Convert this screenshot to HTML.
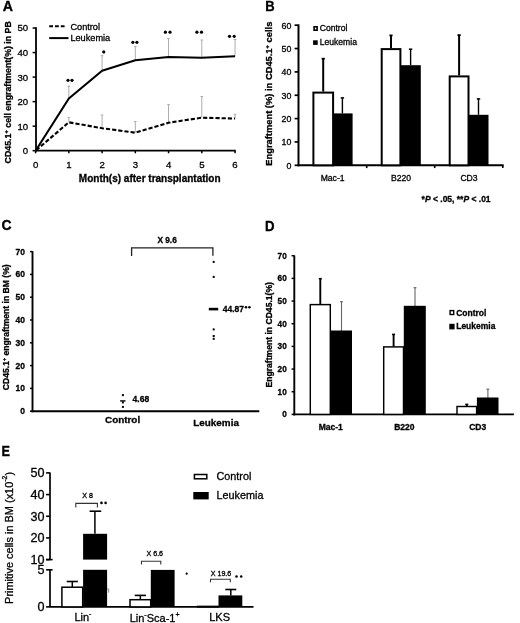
<!DOCTYPE html>
<html><head><meta charset="utf-8"><style>
html,body{margin:0;padding:0;background:#fff;width:520px;height:623px;overflow:hidden}
svg{display:block;filter:grayscale(1) blur(0.4px)}
text{font-family:"Liberation Sans",sans-serif;stroke:#000;stroke-width:0.3px}
</style></head><body>
<svg width="520" height="623" viewBox="0 0 520 623">
<rect width="520" height="623" fill="#fff"/>
<text transform="translate(2.8,11.3) scale(1,1.02)" font-size="14.2" font-weight="bold">A</text>
<line x1="36" y1="27.3" x2="36" y2="151.6" stroke="#000" stroke-width="1.8" />
<line x1="32.6" y1="150.7" x2="36" y2="150.7" stroke="#000" stroke-width="1.5" />
<text x="28.2" y="154.1" font-size="9.6" text-anchor="end" fill="#000" >0</text>
<line x1="32.6" y1="126.17" x2="36" y2="126.17" stroke="#000" stroke-width="1.5" />
<text x="28.2" y="129.57" font-size="9.6" text-anchor="end" fill="#000" >10</text>
<line x1="32.6" y1="101.64" x2="36" y2="101.64" stroke="#000" stroke-width="1.5" />
<text x="28.2" y="105.04" font-size="9.6" text-anchor="end" fill="#000" >20</text>
<line x1="32.6" y1="77.11" x2="36" y2="77.11" stroke="#000" stroke-width="1.5" />
<text x="28.2" y="80.51" font-size="9.6" text-anchor="end" fill="#000" >30</text>
<line x1="32.6" y1="52.58" x2="36" y2="52.58" stroke="#000" stroke-width="1.5" />
<text x="28.2" y="55.98" font-size="9.6" text-anchor="end" fill="#000" >40</text>
<line x1="32.6" y1="28.05" x2="36" y2="28.05" stroke="#000" stroke-width="1.5" />
<text x="28.2" y="31.45" font-size="9.6" text-anchor="end" fill="#000" >50</text>
<line x1="35.1" y1="150.7" x2="235.8" y2="150.7" stroke="#000" stroke-width="1.8" />
<line x1="35.6" y1="150.7" x2="35.6" y2="153.3" stroke="#000" stroke-width="1.5" />
<text x="35.6" y="167.6" font-size="9.6" text-anchor="middle" fill="#000" >0</text>
<line x1="68.84" y1="150.7" x2="68.84" y2="153.3" stroke="#000" stroke-width="1.5" />
<text x="68.84" y="167.6" font-size="9.6" text-anchor="middle" fill="#000" >1</text>
<line x1="102.08" y1="150.7" x2="102.08" y2="153.3" stroke="#000" stroke-width="1.5" />
<text x="102.08" y="167.6" font-size="9.6" text-anchor="middle" fill="#000" >2</text>
<line x1="135.32" y1="150.7" x2="135.32" y2="153.3" stroke="#000" stroke-width="1.5" />
<text x="135.32" y="167.6" font-size="9.6" text-anchor="middle" fill="#000" >3</text>
<line x1="168.56" y1="150.7" x2="168.56" y2="153.3" stroke="#000" stroke-width="1.5" />
<text x="168.56" y="167.6" font-size="9.6" text-anchor="middle" fill="#000" >4</text>
<line x1="201.8" y1="150.7" x2="201.8" y2="153.3" stroke="#000" stroke-width="1.5" />
<text x="201.8" y="167.6" font-size="9.6" text-anchor="middle" fill="#000" >5</text>
<line x1="235.04" y1="150.7" x2="235.04" y2="153.3" stroke="#000" stroke-width="1.5" />
<text x="235.04" y="167.6" font-size="9.6" text-anchor="middle" fill="#000" >6</text>
<text x="149.7" y="182" font-size="10" font-weight="bold" text-anchor="middle" fill="#000" >Month(s) after transplantation</text>
<text transform="translate(11.3,92.3) rotate(-90)" font-size="8.8" font-weight="bold" text-anchor="middle">CD45.1<tspan font-size="5.8" dy="-3.2">+</tspan><tspan dy="3.2"> cell engraftment(%) in PB</tspan></text>
<line x1="49.2" y1="26.3" x2="66" y2="26.3" stroke="#000" stroke-width="2" stroke-dasharray="3.8 2"/>
<text x="70.4" y="29.6" font-size="9.2" text-anchor="start" fill="#000" >Control</text>
<line x1="49.2" y1="38.1" x2="68.5" y2="38.1" stroke="#000" stroke-width="2" />
<text x="70.4" y="41.3" font-size="9.2" text-anchor="start" fill="#000" >Leukemia</text>
<line x1="68.84" y1="86.2" x2="68.84" y2="98.5" stroke="#acacac" stroke-width="1" />
<line x1="67.54" y1="86.2" x2="70.14" y2="86.2" stroke="#acacac" stroke-width="1" />
<line x1="68.84" y1="117.4" x2="68.84" y2="122.3" stroke="#acacac" stroke-width="1" />
<line x1="67.54" y1="117.4" x2="70.14" y2="117.4" stroke="#acacac" stroke-width="1" />
<line x1="102.08" y1="55.7" x2="102.08" y2="70.8" stroke="#acacac" stroke-width="1" />
<line x1="100.78" y1="55.7" x2="103.38" y2="55.7" stroke="#acacac" stroke-width="1" />
<line x1="102.08" y1="115.0" x2="102.08" y2="128.2" stroke="#acacac" stroke-width="1" />
<line x1="100.78" y1="115.0" x2="103.38" y2="115.0" stroke="#acacac" stroke-width="1" />
<line x1="135.32" y1="46.5" x2="135.32" y2="60.3" stroke="#acacac" stroke-width="1" />
<line x1="134.02" y1="46.5" x2="136.62" y2="46.5" stroke="#acacac" stroke-width="1" />
<line x1="135.32" y1="121.5" x2="135.32" y2="132.7" stroke="#acacac" stroke-width="1" />
<line x1="134.02" y1="121.5" x2="136.62" y2="121.5" stroke="#acacac" stroke-width="1" />
<line x1="168.56" y1="38.5" x2="168.56" y2="57.0" stroke="#acacac" stroke-width="1" />
<line x1="167.26" y1="38.5" x2="169.86" y2="38.5" stroke="#acacac" stroke-width="1" />
<line x1="168.56" y1="104.6" x2="168.56" y2="122.7" stroke="#acacac" stroke-width="1" />
<line x1="167.26" y1="104.6" x2="169.86" y2="104.6" stroke="#acacac" stroke-width="1" />
<line x1="201.8" y1="40.0" x2="201.8" y2="57.7" stroke="#acacac" stroke-width="1" />
<line x1="200.5" y1="40.0" x2="203.1" y2="40.0" stroke="#acacac" stroke-width="1" />
<line x1="201.8" y1="96.5" x2="201.8" y2="117.7" stroke="#acacac" stroke-width="1" />
<line x1="200.5" y1="96.5" x2="203.1" y2="96.5" stroke="#acacac" stroke-width="1" />
<line x1="235.04" y1="39.5" x2="235.04" y2="56.3" stroke="#acacac" stroke-width="1" />
<line x1="233.74" y1="39.5" x2="236.34" y2="39.5" stroke="#acacac" stroke-width="1" />
<line x1="235.04" y1="114.3" x2="235.04" y2="118.5" stroke="#acacac" stroke-width="1" />
<line x1="233.74" y1="114.3" x2="236.34" y2="114.3" stroke="#acacac" stroke-width="1" />
<polyline points="35.6,150.7 68.84,122.3 102.08,128.2 135.32,132.7 168.56,122.7 201.8,117.7 235.04,118.5" fill="none" stroke="#000" stroke-width="2.1" stroke-dasharray="4.2 2.0" stroke-dashoffset="5.41" stroke-linejoin="round"/>
<polyline points="35.6,150.7 68.84,98.5 102.08,70.8 135.32,60.3 168.56,57.0 201.8,57.7 235.04,56.3" fill="none" stroke="#000" stroke-width="2.1" stroke-linejoin="round"/>
<circle cx="68" cy="80.3" r="1.6" fill="#000"/>
<circle cx="72" cy="80.3" r="1.6" fill="#000"/>
<circle cx="103.75" cy="51.9" r="1.6" fill="#000"/>
<circle cx="132.9" cy="42.3" r="1.6" fill="#000"/>
<circle cx="136.9" cy="42.3" r="1.6" fill="#000"/>
<circle cx="165.4" cy="32.2" r="1.6" fill="#000"/>
<circle cx="170" cy="32.2" r="1.6" fill="#000"/>
<circle cx="196.9" cy="32.2" r="1.6" fill="#000"/>
<circle cx="201.5" cy="32.2" r="1.6" fill="#000"/>
<circle cx="229.5" cy="36.3" r="1.6" fill="#000"/>
<circle cx="234.2" cy="36.3" r="1.6" fill="#000"/>
<text transform="translate(265.3,11.4) scale(1,1.13)" font-size="13" font-weight="bold">B</text>
<line x1="298.5" y1="24.4" x2="298.5" y2="166.3" stroke="#000" stroke-width="2" />
<line x1="294.6" y1="165.3" x2="298.5" y2="165.3" stroke="#000" stroke-width="1.7" />
<text x="291.4" y="168.7" font-size="8.8" text-anchor="end" fill="#000" >0</text>
<line x1="294.6" y1="141.95" x2="298.5" y2="141.95" stroke="#000" stroke-width="1.7" />
<text x="291.4" y="145.35" font-size="8.8" text-anchor="end" fill="#000" >10</text>
<line x1="294.6" y1="118.6" x2="298.5" y2="118.6" stroke="#000" stroke-width="1.7" />
<text x="291.4" y="122" font-size="8.8" text-anchor="end" fill="#000" >20</text>
<line x1="294.6" y1="95.25" x2="298.5" y2="95.25" stroke="#000" stroke-width="1.7" />
<text x="291.4" y="98.65" font-size="8.8" text-anchor="end" fill="#000" >30</text>
<line x1="294.6" y1="71.9" x2="298.5" y2="71.9" stroke="#000" stroke-width="1.7" />
<text x="291.4" y="75.3" font-size="8.8" text-anchor="end" fill="#000" >40</text>
<line x1="294.6" y1="48.55" x2="298.5" y2="48.55" stroke="#000" stroke-width="1.7" />
<text x="291.4" y="51.95" font-size="8.8" text-anchor="end" fill="#000" >50</text>
<line x1="294.6" y1="25.2" x2="298.5" y2="25.2" stroke="#000" stroke-width="1.7" />
<text x="291.4" y="28.6" font-size="8.8" text-anchor="end" fill="#000" >60</text>
<line x1="297.5" y1="165.3" x2="503.6" y2="165.3" stroke="#000" stroke-width="1.9" />
<line x1="366.7" y1="165.3" x2="366.7" y2="168.1" stroke="#000" stroke-width="1.6" />
<line x1="434.7" y1="165.3" x2="434.7" y2="168.1" stroke="#000" stroke-width="1.6" />
<line x1="502.8" y1="165.3" x2="502.8" y2="168.1" stroke="#000" stroke-width="1.6" />
<text transform="translate(272.3,93.7) rotate(-90)" font-size="9.35" font-weight="bold" text-anchor="middle">Engraftment (%) in CD45.1<tspan font-size="5.8" dy="-3">+</tspan><tspan dy="3"> cells</tspan></text>
<line x1="323.2" y1="58.5" x2="323.2" y2="91.6" stroke="#000" stroke-width="2" />
<line x1="321.6" y1="58.7" x2="324.8" y2="58.7" stroke="#000" stroke-width="1.8" />
<line x1="391" y1="35.2" x2="391" y2="48.1" stroke="#000" stroke-width="2" />
<line x1="389.4" y1="35.4" x2="392.6" y2="35.4" stroke="#000" stroke-width="1.8" />
<line x1="459.1" y1="34.9" x2="459.1" y2="75.4" stroke="#000" stroke-width="2" />
<line x1="457.5" y1="35.1" x2="460.7" y2="35.1" stroke="#000" stroke-width="1.8" />
<line x1="342.4" y1="97.7" x2="342.4" y2="113.4" stroke="#000" stroke-width="1.4" />
<line x1="340.7" y1="97.9" x2="344.1" y2="97.9" stroke="#000" stroke-width="1.5" />
<line x1="410.6" y1="49" x2="410.6" y2="65.2" stroke="#000" stroke-width="1.4" />
<line x1="408.9" y1="49.2" x2="412.3" y2="49.2" stroke="#000" stroke-width="1.5" />
<line x1="478.5" y1="98.7" x2="478.5" y2="114.8" stroke="#000" stroke-width="1.4" />
<line x1="476.8" y1="98.9" x2="480.2" y2="98.9" stroke="#000" stroke-width="1.5" />
<rect x="313.4" y="92.6" width="19.7" height="72.7" fill="#fff" stroke="#000" stroke-width="2"/>
<rect x="381.7" y="49.1" width="18.7" height="116.2" fill="#fff" stroke="#000" stroke-width="2"/>
<rect x="449.7" y="76.4" width="18.8" height="88.9" fill="#fff" stroke="#000" stroke-width="2"/>
<rect x="333.1" y="113.4" width="19.5" height="51.9" fill="#000" stroke="none" stroke-width="0"/>
<rect x="400.4" y="65.2" width="20.4" height="100.1" fill="#000" stroke="none" stroke-width="0"/>
<rect x="468.5" y="114.8" width="20.0" height="50.5" fill="#000" stroke="none" stroke-width="0"/>
<text x="332.6" y="181.2" font-size="8.6" text-anchor="middle" fill="#000" >Mac-1</text>
<text x="401" y="181.2" font-size="8.6" text-anchor="middle" fill="#000" >B220</text>
<text x="469" y="181.2" font-size="8.6" text-anchor="middle" fill="#000" >CD3</text>
<rect x="314.1" y="26.8" width="3.0" height="3.4" fill="#fff" stroke="#000" stroke-width="1.6"/>
<text x="319.7" y="31.2" font-size="8.6" text-anchor="start" fill="#000" >Control</text>
<rect x="313.1" y="40.3" width="4.6" height="4.6" fill="#000" stroke="none" stroke-width="0"/>
<text x="319.7" y="45.3" font-size="8.6" text-anchor="start" fill="#000" >Leukemia</text>
<text x="421.6" y="202.4" font-size="8.5" font-weight="bold" text-anchor="start" fill="#000" >*<tspan font-style="italic">P</tspan> &lt; .05, **<tspan font-style="italic">P</tspan> &lt; .01</text>
<text transform="translate(1.4,229.9) scale(1,1.08)" font-size="13.9" font-weight="bold">C</text>
<line x1="32.5" y1="251.2" x2="32.5" y2="412.2" stroke="#000" stroke-width="1.9" />
<line x1="30" y1="411.2" x2="32.5" y2="411.2" stroke="#000" stroke-width="1.5" />
<text x="24.9" y="414.2" font-size="8.5" font-weight="bold" text-anchor="end" fill="#000" >0</text>
<line x1="30" y1="388.4" x2="32.5" y2="388.4" stroke="#000" stroke-width="1.5" />
<text x="24.9" y="391.4" font-size="8.5" font-weight="bold" text-anchor="end" fill="#000" >10</text>
<line x1="30" y1="365.6" x2="32.5" y2="365.6" stroke="#000" stroke-width="1.5" />
<text x="24.9" y="368.6" font-size="8.5" font-weight="bold" text-anchor="end" fill="#000" >20</text>
<line x1="30" y1="342.8" x2="32.5" y2="342.8" stroke="#000" stroke-width="1.5" />
<text x="24.9" y="345.8" font-size="8.5" font-weight="bold" text-anchor="end" fill="#000" >30</text>
<line x1="30" y1="320.0" x2="32.5" y2="320.0" stroke="#000" stroke-width="1.5" />
<text x="24.9" y="323.0" font-size="8.5" font-weight="bold" text-anchor="end" fill="#000" >40</text>
<line x1="30" y1="297.2" x2="32.5" y2="297.2" stroke="#000" stroke-width="1.5" />
<text x="24.9" y="300.2" font-size="8.5" font-weight="bold" text-anchor="end" fill="#000" >50</text>
<line x1="30" y1="274.4" x2="32.5" y2="274.4" stroke="#000" stroke-width="1.5" />
<text x="24.9" y="277.4" font-size="8.5" font-weight="bold" text-anchor="end" fill="#000" >60</text>
<line x1="30" y1="251.6" x2="32.5" y2="251.6" stroke="#000" stroke-width="1.5" />
<text x="24.9" y="254.6" font-size="8.5" font-weight="bold" text-anchor="end" fill="#000" >70</text>
<line x1="31.5" y1="411.2" x2="259.3" y2="411.2" stroke="#000" stroke-width="1.9" />
<text transform="translate(9.1,327.2) rotate(-90)" font-size="8.6" font-weight="bold" text-anchor="middle">CD45.1<tspan font-size="5.4" dy="-3">+</tspan><tspan dy="3"> engraftment in BM (%)</tspan></text>
<text x="122.6" y="423.1" font-size="9.9" font-weight="bold" text-anchor="middle" fill="#000" >Control</text>
<text x="216.1" y="425.7" font-size="9.9" font-weight="bold" text-anchor="middle" fill="#000" >Leukemia</text>
<polyline points="131.6,256 131.6,247.9 212.9,247.9 212.9,255.8" fill="none" stroke="#222" stroke-width="1.3" />
<text x="167.1" y="243.2" font-size="8.3" font-weight="bold" text-anchor="middle" fill="#000" >X 9.6</text>
<rect x="121.9" y="394.1" width="2" height="2" fill="#000" stroke="none" stroke-width="0"/>
<rect x="121.9" y="401.4" width="2" height="2" fill="#000" stroke="none" stroke-width="0"/>
<rect x="121.9" y="405.9" width="2" height="2" fill="#000" stroke="none" stroke-width="0"/>
<line x1="120.1" y1="400.9" x2="125.5" y2="400.9" stroke="#000" stroke-width="1.4" />
<text x="132.6" y="402.4" font-size="8.5" font-weight="bold" text-anchor="start" fill="#000" >4.68</text>
<rect x="212.7" y="260.9" width="2" height="2" fill="#000" stroke="none" stroke-width="0"/>
<rect x="212.7" y="275.9" width="2" height="2" fill="#000" stroke="none" stroke-width="0"/>
<rect x="212.7" y="328.4" width="2" height="2" fill="#000" stroke="none" stroke-width="0"/>
<rect x="212.7" y="335" width="2" height="2" fill="#000" stroke="none" stroke-width="0"/>
<rect x="212.7" y="337.8" width="2" height="2" fill="#000" stroke="none" stroke-width="0"/>
<line x1="208.8" y1="309.1" x2="218.2" y2="309.1" stroke="#000" stroke-width="2.6" />
<text x="222.7" y="312.1" font-size="8.5" font-weight="bold" text-anchor="start" fill="#000" >44.87</text>
<circle cx="246" cy="307.3" r="1.3" fill="#000"/>
<circle cx="249.4" cy="307.3" r="1.3" fill="#000"/>
<text transform="translate(265.0,230.6) scale(1,1.14)" font-size="13.2" font-weight="bold">D</text>
<line x1="294.3" y1="255.4" x2="294.3" y2="415.4" stroke="#000" stroke-width="1.9" />
<line x1="291.6" y1="414.4" x2="294.3" y2="414.4" stroke="#000" stroke-width="1.5" />
<text x="286.7" y="417.3" font-size="8.2" font-weight="bold" text-anchor="end" fill="#000" >0</text>
<line x1="291.6" y1="391.73" x2="294.3" y2="391.73" stroke="#000" stroke-width="1.5" />
<text x="286.7" y="394.63" font-size="8.2" font-weight="bold" text-anchor="end" fill="#000" >10</text>
<line x1="291.6" y1="369.06" x2="294.3" y2="369.06" stroke="#000" stroke-width="1.5" />
<text x="286.7" y="371.96" font-size="8.2" font-weight="bold" text-anchor="end" fill="#000" >20</text>
<line x1="291.6" y1="346.39" x2="294.3" y2="346.39" stroke="#000" stroke-width="1.5" />
<text x="286.7" y="349.29" font-size="8.2" font-weight="bold" text-anchor="end" fill="#000" >30</text>
<line x1="291.6" y1="323.72" x2="294.3" y2="323.72" stroke="#000" stroke-width="1.5" />
<text x="286.7" y="326.62" font-size="8.2" font-weight="bold" text-anchor="end" fill="#000" >40</text>
<line x1="291.6" y1="301.05" x2="294.3" y2="301.05" stroke="#000" stroke-width="1.5" />
<text x="286.7" y="303.95" font-size="8.2" font-weight="bold" text-anchor="end" fill="#000" >50</text>
<line x1="291.6" y1="278.38" x2="294.3" y2="278.38" stroke="#000" stroke-width="1.5" />
<text x="286.7" y="281.28" font-size="8.2" font-weight="bold" text-anchor="end" fill="#000" >60</text>
<line x1="291.6" y1="255.71" x2="294.3" y2="255.71" stroke="#000" stroke-width="1.5" />
<text x="286.7" y="258.61" font-size="8.2" font-weight="bold" text-anchor="end" fill="#000" >70</text>
<line x1="293.3" y1="414.4" x2="513.9" y2="414.4" stroke="#000" stroke-width="1.9" />
<text transform="translate(272.2,334.8) rotate(-90)" font-size="8.6" font-weight="bold" text-anchor="middle">Engraftment in CD45.1(%)</text>
<line x1="320.3" y1="278.7" x2="320.3" y2="304.6" stroke="#000" stroke-width="1.9" />
<line x1="318.8" y1="278.7" x2="321.8" y2="278.7" stroke="#000" stroke-width="1.6" />
<line x1="393.6" y1="334.4" x2="393.6" y2="346.9" stroke="#000" stroke-width="1.9" />
<line x1="392.1" y1="334.4" x2="395.1" y2="334.4" stroke="#000" stroke-width="1.6" />
<line x1="466.8" y1="404.4" x2="466.8" y2="406.5" stroke="#000" stroke-width="1.9" />
<line x1="465.3" y1="404.4" x2="468.3" y2="404.4" stroke="#000" stroke-width="1.6" />
<line x1="341.5" y1="301.7" x2="341.5" y2="331.2" stroke="#666" stroke-width="1.1" />
<line x1="340.1" y1="301.7" x2="342.9" y2="301.7" stroke="#666" stroke-width="1.2" />
<line x1="415.0" y1="287.7" x2="415.0" y2="306.5" stroke="#666" stroke-width="1.1" />
<line x1="413.6" y1="287.7" x2="416.4" y2="287.7" stroke="#666" stroke-width="1.2" />
<line x1="487.9" y1="389.2" x2="487.9" y2="398.2" stroke="#666" stroke-width="1.1" />
<line x1="486.5" y1="389.2" x2="489.3" y2="389.2" stroke="#666" stroke-width="1.2" />
<rect x="310.3" y="304.6" width="20" height="109.8" fill="#fff" stroke="#000" stroke-width="1.45"/>
<rect x="383.7" y="346.9" width="19.8" height="67.5" fill="#fff" stroke="#000" stroke-width="1.45"/>
<rect x="457.0" y="406.5" width="19.6" height="7.9" fill="#fff" stroke="#000" stroke-width="1.45"/>
<rect x="330.6" y="330.5" width="21.4" height="83.9" fill="#000" stroke="none" stroke-width="0"/>
<rect x="403.8" y="305.8" width="22" height="108.6" fill="#000" stroke="none" stroke-width="0"/>
<rect x="476.9" y="397.5" width="21.6" height="16.9" fill="#000" stroke="none" stroke-width="0"/>
<text x="330.8" y="430.3" font-size="8.5" font-weight="bold" text-anchor="middle" fill="#000" >Mac-1</text>
<text x="404.3" y="430.3" font-size="8.5" font-weight="bold" text-anchor="middle" fill="#000" >B220</text>
<text x="477.7" y="430.3" font-size="8.5" font-weight="bold" text-anchor="middle" fill="#000" >CD3</text>
<rect x="450.1" y="310.6" width="3.6" height="3.9" fill="#fff" stroke="#000" stroke-width="1.4"/>
<text x="456.2" y="315.6" font-size="8.5" font-weight="bold" text-anchor="start" fill="#000" >Control</text>
<rect x="449.3" y="323.8" width="5.3" height="5.6" fill="#000" stroke="none" stroke-width="0"/>
<text x="456.2" y="329.4" font-size="8.5" font-weight="bold" text-anchor="start" fill="#000" >Leukemia</text>
<text transform="translate(1.6,456.4) scale(1,1.16)" font-size="12.7" font-weight="bold">E</text>
<line x1="50" y1="472.4" x2="50" y2="559.6" stroke="#000" stroke-width="1.7" />
<line x1="50" y1="569.8" x2="50" y2="606.9" stroke="#000" stroke-width="1.7" />
<line x1="46.1" y1="559.6" x2="50" y2="559.6" stroke="#000" stroke-width="1.6" />
<text x="44.5" y="564.1" font-size="12.6" text-anchor="end" fill="#000" >10</text>
<line x1="46.1" y1="537.93" x2="50" y2="537.93" stroke="#000" stroke-width="1.6" />
<text x="44.5" y="542.43" font-size="12.6" text-anchor="end" fill="#000" >20</text>
<line x1="46.1" y1="516.25" x2="50" y2="516.25" stroke="#000" stroke-width="1.6" />
<text x="44.5" y="520.75" font-size="12.6" text-anchor="end" fill="#000" >30</text>
<line x1="46.1" y1="494.58" x2="50" y2="494.58" stroke="#000" stroke-width="1.6" />
<text x="44.5" y="499.08" font-size="12.6" text-anchor="end" fill="#000" >40</text>
<line x1="46.1" y1="472.9" x2="50" y2="472.9" stroke="#000" stroke-width="1.6" />
<text x="44.5" y="477.4" font-size="12.6" text-anchor="end" fill="#000" >50</text>
<line x1="46.1" y1="559.6" x2="52.6" y2="559.6" stroke="#000" stroke-width="1.6" />
<line x1="46.1" y1="569.8" x2="52.6" y2="569.8" stroke="#000" stroke-width="1.6" />
<text x="44.5" y="574.2" font-size="12.6" text-anchor="end" fill="#000" >5</text>
<text x="44.5" y="611.4" font-size="12.6" text-anchor="end" fill="#000" >0</text>
<line x1="46.1" y1="606.9" x2="50" y2="606.9" stroke="#000" stroke-width="1.6" />
<line x1="50" y1="606.9" x2="253.5" y2="606.9" stroke="#000" stroke-width="1.8" />
<text transform="translate(13.3,537.9) rotate(-90)" font-size="10.95" text-anchor="middle">Primitive cells in BM (x10<tspan font-size="6.9" dy="-6.6">-2</tspan><tspan dy="6.6">)</tspan></text>
<line x1="72.3" y1="581.5" x2="72.3" y2="587.2" stroke="#000" stroke-width="1.5" />
<line x1="66.7" y1="581.5" x2="77.9" y2="581.5" stroke="#000" stroke-width="1.6" />
<rect x="61.9" y="587.2" width="20.8" height="19.7" fill="#fff" stroke="#000" stroke-width="1.5"/>
<line x1="140.35" y1="595.4" x2="140.35" y2="599.7" stroke="#000" stroke-width="1.5" />
<line x1="134.75" y1="595.4" x2="145.95" y2="595.4" stroke="#000" stroke-width="1.6" />
<rect x="130.0" y="599.7" width="20.7" height="7.2" fill="#fff" stroke="#000" stroke-width="1.5"/>
<rect x="197.6" y="606.4" width="20.8" height="0.5" fill="#fff" stroke="#000" stroke-width="1.5"/>
<rect x="83.1" y="533.8" width="24.0" height="25.8" fill="#000" stroke="none" stroke-width="0"/>
<rect x="83.1" y="569.8" width="24.0" height="37.1" fill="#000" stroke="none" stroke-width="0"/>
<path d="M107,588.9 H108.7 V592.6" fill="none" stroke="#8a8a8a" stroke-width="1"/>
<line x1="94.9" y1="511.2" x2="94.9" y2="533.8" stroke="#000" stroke-width="1.5" />
<line x1="89.6" y1="511.2" x2="101.2" y2="511.2" stroke="#000" stroke-width="1.6" />
<rect x="150.8" y="569.9" width="23.8" height="37.0" fill="#000" stroke="none" stroke-width="0"/>
<rect x="218.5" y="595.4" width="23.8" height="11.5" fill="#000" stroke="none" stroke-width="0"/>
<line x1="230.8" y1="589.5" x2="230.8" y2="595.4" stroke="#000" stroke-width="1.5" />
<line x1="225.3" y1="589.5" x2="236.3" y2="589.5" stroke="#000" stroke-width="1.6" />
<polyline points="75.8,507.4 75.8,503.4 97.4,503.4 97.4,507.4" fill="none" stroke="#333" stroke-width="1.1" />
<polyline points="141.5,564.6 141.5,561.2 160.8,561.2 160.8,564.6" fill="none" stroke="#333" stroke-width="1.1" />
<polyline points="210.5,582.3 210.5,579.2 230.3,579.2 230.3,582.3" fill="none" stroke="#333" stroke-width="1.1" />
<text x="87.7" y="497.9" font-size="7.1" text-anchor="middle" fill="#000" >X 8</text>
<text x="154.8" y="556.4" font-size="7.1" text-anchor="middle" fill="#000" >X 6.6</text>
<text x="221" y="575.9" font-size="7.1" text-anchor="middle" fill="#000" >X 19.6</text>
<circle cx="101.5" cy="502.9" r="1.3" fill="#000"/>
<circle cx="105.6" cy="502.9" r="1.3" fill="#000"/>
<circle cx="186.7" cy="573.7" r="1.1" fill="#000"/>
<circle cx="236.5" cy="576.4" r="1.25" fill="#000"/>
<circle cx="241.2" cy="576.4" r="1.25" fill="#000"/>
<text x="82.9" y="621" font-size="11" text-anchor="middle" fill="#000" >Lin<tspan font-size="7" dy="-5">-</tspan></text>
<text x="154.6" y="621.5" font-size="11" text-anchor="middle" fill="#000" >Lin<tspan font-size="7" dy="-5">-</tspan><tspan dy="5">Sca-1</tspan><tspan font-size="7" dy="-5">+</tspan></text>
<text x="219.6" y="621" font-size="11" text-anchor="middle" fill="#000" >LKS</text>
<rect x="194.4" y="474.5" width="12.4" height="4.3" fill="#fff" stroke="#000" stroke-width="1.5"/>
<rect x="193.3" y="492" width="15.4" height="7.4" fill="#000" stroke="none" stroke-width="0"/>
<text x="216.5" y="480.4" font-size="10.8" text-anchor="start" fill="#000" >Control</text>
<text x="216.6" y="499.4" font-size="10.8" text-anchor="start" fill="#000" >Leukemia</text>
</svg>
</body></html>
